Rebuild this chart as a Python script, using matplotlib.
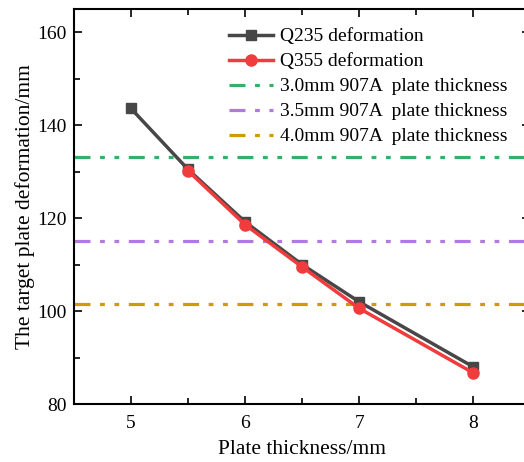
import matplotlib
matplotlib.use('Agg')
import matplotlib.pyplot as plt
from matplotlib.ticker import MultipleLocator

# Data.
thickness = [5, 5.5, 6, 6.5, 7, 8]
q235 = [143.6, 130.5, 119.2, 110.0, 102.0, 88.0]
q355 = [None, 130.2, 118.6, 109.5, 100.6, 86.7]
ref_levels = [133.2, 115.1, 101.5]
ref_labels = ['3.0mm 907A  plate thickness',
              '3.5mm 907A  plate thickness',
              '4.0mm 907A  plate thickness']
ref_colors = ['#35b06a', '#b07ae0', '#d09b00']

plt.rcParams['font.family'] = ['Liberation Serif', 'DejaVu Serif']

fig = plt.figure(figsize=(5.24, 4.62), dpi=100)
axes = fig.add_axes([0.141, 0.1255, 0.871, 0.855])

axes.plot(thickness, q235, color='#474747', lw=2.5, marker='s',
          markersize=7, label='Q235 deformation', zorder=3)
x355 = [x for x, y in zip(thickness, q355) if y is not None]
y355 = [y for y in q355 if y is not None]
axes.plot(x355, y355, color='#f03c3c', lw=2.5, marker='o',
          markersize=8, label='Q355 deformation', zorder=4)

dash = (0, (5, 3, 1.5, 3, 1.5, 3))
for level, label, color in zip(ref_levels, ref_labels, ref_colors):
    axes.axhline(level, color=color, lw=2.3, linestyle=dash, label=label,
                 zorder=2)

axes.set_xlim(4.5, 8.5)
axes.set_ylim(80, 165)
axes.xaxis.set_major_locator(MultipleLocator(1))
axes.xaxis.set_minor_locator(MultipleLocator(0.5))
axes.yaxis.set_major_locator(MultipleLocator(20))
axes.yaxis.set_minor_locator(MultipleLocator(10))
axes.tick_params(which='both', direction='in', top=True, right=True,
                 width=1.2, labelsize=14)
axes.tick_params(which='major', length=6)
axes.tick_params(axis='x', which='major', pad=8)
axes.tick_params(axis='y', which='major', pad=5)
axes.tick_params(which='minor', length=4)
for spine in axes.spines.values():
    spine.set_linewidth(1.5)

axes.set_xlabel('Plate thickness/mm', fontsize=15.5, labelpad=6)
axes.set_ylabel('The target plate deformation/mm', fontsize=15.5, labelpad=2)

axes.legend(loc='upper left', bbox_to_anchor=(0.3225, 0.972), frameon=False,
            fontsize=14, handlelength=2.25, handletextpad=0.4,
            labelspacing=0.38, borderaxespad=0)

fig.savefig('out.png', dpi=100)
